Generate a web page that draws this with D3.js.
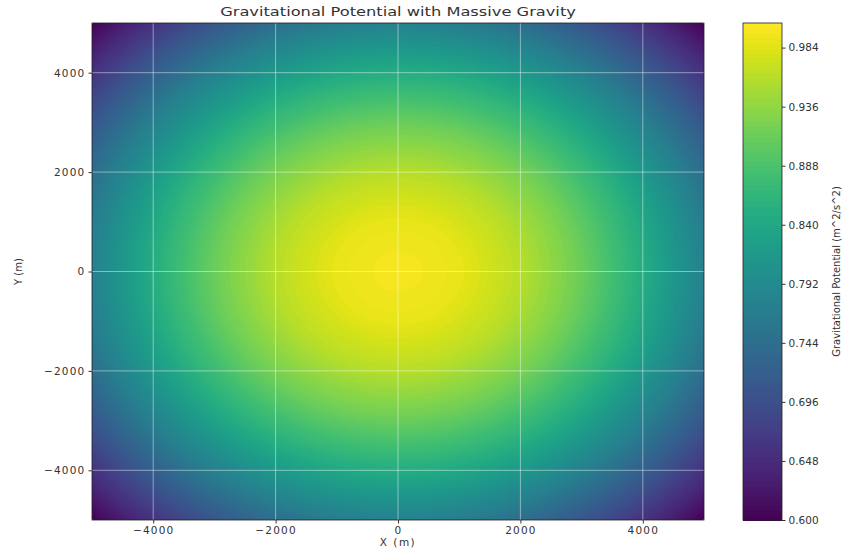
<!DOCTYPE html>
<html>
<head>
<meta charset="utf-8">
<script src="https://cdn.jsdelivr.net/npm/d3@7"></script>
<style>
  body { margin: 0; background: #fff; }
  text { font-family: "DejaVu Sans", sans-serif; fill: #333; }
</style>
</head>
<body>
<svg id="chart" width="845" height="549"></svg>
<script>
const w = 845;
const h = 549;

// radial profile of the potential (r in metres)
const radius = [0, 1000, 2000, 3000, 4000, 5000, 6000, 7071];
const potential = [1.000, 0.990, 0.960, 0.912, 0.850, 0.776, 0.693, 0.600];

const xTicks = [-4000, -2000, 0, 2000, 4000];
const yTicks = [-4000, -2000, 0, 2000, 4000];
const cbTicks = [0.600, 0.648, 0.696, 0.744, 0.792, 0.840, 0.888, 0.936, 0.984];
const levels = d3.range(0, 102).map(i => +(0.600 + i * 0.004).toFixed(3));

const plot = { left: 92, right: 704, top: 23, bottom: 520 };
const cb = { left: 743, right: 782 };

const svg = d3.select('#chart');

const xScale = d3.scaleLinear().domain([-5000, 5000]).range([plot.left, plot.right]);
const yScale = d3.scaleLinear().domain([-5000, 5000]).range([plot.bottom, plot.top]);
const profile = d3.scaleLinear().domain(radius).range(potential).clamp(true);

const lo = levels[0], hi = levels[levels.length - 1];
const bandColor = i => d3.interpolateViridis((((levels[i] + levels[i + 1]) / 2) - lo) / (hi - lo));

// sample grid
const nx = 240, ny = 200;
const values = new Array(nx * ny);
for (let j = 0; j < ny; j++) {
  for (let i = 0; i < nx; i++) {
    const x = -5000 + (i + 0.5) / nx * 10000;
    const y = 5000 - (j + 0.5) / ny * 10000;
    values[j * nx + i] = profile(Math.hypot(x, y));
  }
}

const contours = d3.contours().size([nx, ny]).thresholds(levels.slice(0, -1))(values);

const proj = d3.geoTransform({
  point: function(px, py) {
    this.stream.point(plot.left + px / nx * (plot.right - plot.left),
                      plot.top + py / ny * (plot.bottom - plot.top));
  }
});
const path = d3.geoPath(proj);

svg.append('clipPath').attr('id', 'clip')
  .append('rect')
  .attr('x', plot.left).attr('y', plot.top)
  .attr('width', plot.right - plot.left).attr('height', plot.bottom - plot.top);

const g = svg.append('g').attr('clip-path', 'url(#clip)');
g.selectAll('path')
  .data(contours)
  .enter()
  .append('path')
  .attr('d', path)
  .attr('fill', (d, i) => bandColor(i))
  .attr('stroke', (d, i) => bandColor(i))
  .attr('stroke-width', 0.6);

// grid
g.selectAll('.gx').data(xTicks).enter().append('line')
  .attr('x1', d => xScale(d)).attr('x2', d => xScale(d))
  .attr('y1', plot.top).attr('y2', plot.bottom)
  .attr('stroke', 'rgba(255,255,255,0.45)').attr('stroke-width', 1);
g.selectAll('.gy').data(yTicks).enter().append('line')
  .attr('y1', d => yScale(d)).attr('y2', d => yScale(d))
  .attr('x1', plot.left).attr('x2', plot.right)
  .attr('stroke', 'rgba(255,255,255,0.45)').attr('stroke-width', 1);

svg.append('rect')
  .attr('x', plot.left).attr('y', plot.top)
  .attr('width', plot.right - plot.left).attr('height', plot.bottom - plot.top)
  .attr('fill', 'none').attr('stroke', '#222').attr('stroke-width', 0.8);

const xAxis = d3.axisBottom(xScale).tickValues(xTicks).tickSize(3.5).tickPadding(3)
  .tickFormat(d => d < 0 ? '\u2212' + Math.abs(d) : d);
const yAxis = d3.axisLeft(yScale).tickValues(yTicks).tickSize(3.5).tickPadding(3)
  .tickFormat(d => d < 0 ? '\u2212' + Math.abs(d) : d);

const gx = svg.append('g').attr('transform', 'translate(0,' + plot.bottom + ')').call(xAxis);
const gy = svg.append('g').attr('transform', 'translate(' + plot.left + ',0)').call(yAxis);
[gx, gy].forEach(a => {
  a.select('.domain').remove();
  a.selectAll('line').attr('stroke', '#333');
  a.selectAll('text').attr('font-size', 10.5).attr('fill', '#333').style('letter-spacing', '1.2px');
});

// colorbar
const cbScale = d3.scaleLinear().domain([lo, hi]).range([plot.bottom, plot.top]);
svg.append('g').attr('shape-rendering', 'crispEdges').selectAll('rect')
  .data(d3.range(levels.length - 1))
  .enter()
  .append('rect')
  .attr('x', cb.left)
  .attr('width', cb.right - cb.left)
  .attr('y', i => cbScale(levels[i + 1]))
  .attr('height', i => cbScale(levels[i]) - cbScale(levels[i + 1]) + 1)
  .attr('fill', i => bandColor(i));
svg.append('rect')
  .attr('x', cb.left).attr('y', plot.top)
  .attr('width', cb.right - cb.left).attr('height', plot.bottom - plot.top)
  .attr('fill', 'none').attr('stroke', '#222').attr('stroke-width', 0.8);

const cbAxis = d3.axisRight(cbScale).tickValues(cbTicks).tickSize(3.5).tickPadding(3)
  .tickFormat(d3.format('.3f'));
const gc = svg.append('g').attr('transform', 'translate(' + cb.right + ',0)').call(cbAxis);
gc.select('.domain').remove();
gc.selectAll('line').attr('stroke', '#333');
gc.selectAll('text').attr('font-size', 10.5).attr('fill', '#333');

// labels
svg.append('text')
  .attr('transform', 'translate(' + (plot.left + plot.right) / 2 + ',16) scale(1.25,1)')
  .attr('text-anchor', 'middle').attr('font-size', 13)
  .text('Gravitational Potential with Massive Gravity');
svg.append('text')
  .attr('x', (plot.left + plot.right) / 2).attr('y', 546)
  .attr('text-anchor', 'middle').attr('font-size', 10.5)
  .style('letter-spacing', '1.5px')
  .text('X (m)');
svg.append('text')
  .attr('transform', 'translate(22,' + (plot.top + plot.bottom) / 2 + ') rotate(-90)')
  .attr('text-anchor', 'middle').attr('font-size', 10)
  .text('Y (m)');
svg.append('text')
  .attr('transform', 'translate(840,' + (plot.top + plot.bottom) / 2 + ') rotate(-90)')
  .attr('text-anchor', 'middle').attr('font-size', 10)
  .text('Gravitational Potential (m^2/s^2)');
</script>
</body>
</html>
